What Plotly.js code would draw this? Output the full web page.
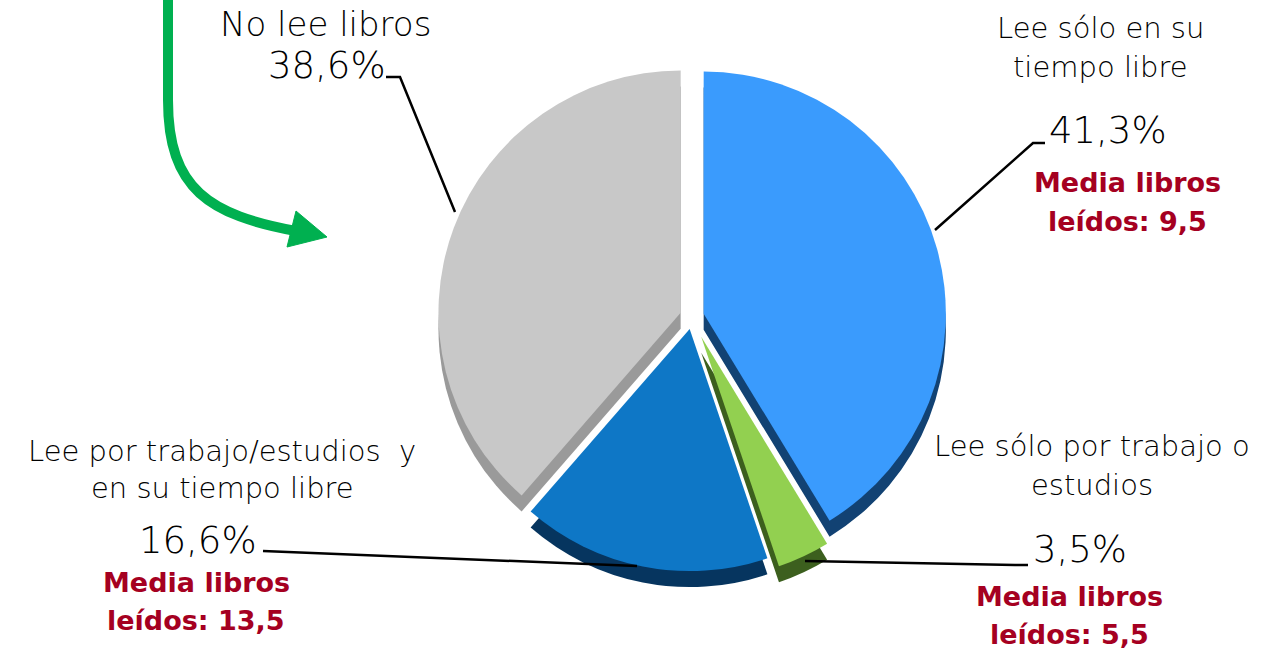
<!DOCTYPE html>
<html>
<head>
<meta charset="utf-8">
<script src="https://cdn.plot.ly/plotly-3.0.1.min.js"></script>
<style>html,body{margin:0;padding:0;background:#fff;}#chart{width:1264px;height:649px;}</style>
</head>
<body>
<div id="chart"></div>
<script>
// ---- data ----
const categories = ["Lee sólo en su tiempo libre", "Lee sólo por trabajo o estudios", "Lee por trabajo/estudios  y en su tiempo libre", "No lee libros"];
const shares = [41.3, 3.5, 16.6, 38.6];
const mediaLibros = ["9,5", "5,5", "13,5", null];
const shareLabels = ["41,3%", "3,5%", "16,6%", "38,6%"];

// ---- styling ----
const W = 1264, H = 649;
const topColors = ["#3a9bfd", "#92d050", "#0e77c6", "#c8c8c8"];
const sideColors = ["#124273", "#3c5f1e", "#06355f", "#9a9a9a"];
const pulls = [0.05, 0.09, 0.05, 0.05];
const X = px => px / W;
const Y = py => 1 - py / H;
const FONT = "'DejaVu Sans', Verdana, sans-serif";
const BOLD = "'DejaVu Sans', Verdana, sans-serif";
const RED = "#a50021";

function dom(cx, cy, size) {
  return {x: [X(cx - size / 2), X(cx + size / 2)], y: [Y(cy + size / 2), Y(cy - size / 2)]};
}

const sideTrace = {
  type: "pie", values: shares, labels: categories, sort: false, direction: "clockwise", rotation: 0,
  pull: pulls, textinfo: "none", hoverinfo: "skip", showlegend: false,
  marker: {colors: sideColors, line: {width: 0}},
  domain: dom(692, 333, 528)
};
const topTrace = {
  type: "pie", values: shares, labels: categories, sort: false, direction: "clockwise", rotation: 0,
  pull: pulls, textinfo: "none", showlegend: false,
  marker: {colors: topColors, line: {width: 0}},
  domain: dom(692, 317, 528)
};

const anns = [];
function txt(text, x, y, size, color, font, weight) {
  anns.push({text: text, x: X(x), y: Y(y), xref: "paper", yref: "paper", showarrow: false,
    xanchor: "center", yanchor: "middle",
    font: {family: font || FONT, size: size, color: color || "#000", weight: weight || 300}});
}
// category labels
txt("No lee libros", 325, 24, 34);
txt("Lee sólo en su", 1100, 28, 29);
txt("tiempo libre", 1100, 67, 29);
txt("Lee por trabajo/estudios  y", 222, 451, 29);
txt("en su tiempo libre", 222, 488, 29);
txt("Lee sólo por trabajo o", 1092, 446, 29);
txt("estudios", 1092, 485, 29);
// percentages
txt(shareLabels[3], 327, 65, 37);
txt(shareLabels[0], 1108, 130, 37);
txt(shareLabels[2], 198, 540, 37);
txt(shareLabels[1], 1080, 549, 37);
// media libros
function media(v, x, y) {
  txt("<b>Media libros</b>", x, y, 27, RED, BOLD, 700);
  txt("<b>leídos: " + v + "</b>", x, y + 38, 27, RED, BOLD, 700);
}
media(mediaLibros[0], 1127, 183);
media(mediaLibros[2], 196, 582);
media(mediaLibros[1], 1069, 596);

// leader lines + green arrow
function path(pts) {
  return pts.map((p, i) => (i ? "L" : "M") + X(p[0]) + "," + Y(p[1])).join(" ");
}
const shapes = [
  {type: "path", xref: "paper", yref: "paper", path: path([[386, 77], [400, 77], [455, 212]]), line: {color: "#000", width: 2.5}},
  {type: "path", xref: "paper", yref: "paper", path: path([[1045, 143], [1033, 143], [935, 230]]), line: {color: "#000", width: 2.5}},
  {type: "path", xref: "paper", yref: "paper", path: path([[263, 551], [637, 566]]), line: {color: "#000", width: 2.5}},
  {type: "path", xref: "paper", yref: "paper", path: path([[805, 561], [1015, 565], [1028, 565]]), line: {color: "#000", width: 2.5}},
  {type: "path", xref: "paper", yref: "paper",
    path: "M" + X(168) + "," + Y(-5) + " L" + X(168) + "," + Y(100) + " C" + X(168) + "," + Y(190) + " " + X(210) + "," + Y(215) + " " + X(296) + "," + Y(231),
    line: {color: "#00b050", width: 10}},
  {type: "path", xref: "paper", yref: "paper",
    path: "M" + X(327) + "," + Y(237) + " L" + X(296) + "," + Y(211) + " L" + X(287) + "," + Y(247) + " Z",
    fillcolor: "#00b050", line: {color: "#00b050", width: 1}}
];

const layout = {
  width: W, height: H, margin: {l: 0, r: 0, t: 0, b: 0},
  paper_bgcolor: "#fff", plot_bgcolor: "#fff", showlegend: false,
  annotations: anns, shapes: shapes
};
Plotly.newPlot("chart", [sideTrace, topTrace], layout, {displayModeBar: false, staticPlot: true});
</script>
</body>
</html>
